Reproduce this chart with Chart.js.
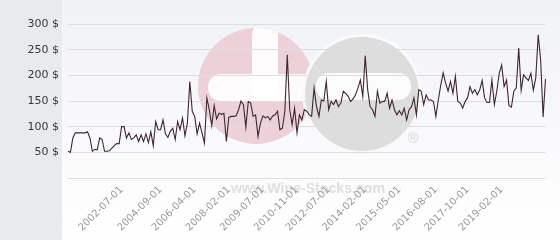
<!DOCTYPE html>
<html>
<head>
<meta charset="utf-8">
<script src="https://cdn.jsdelivr.net/npm/chart.js@4"></script>
<style>
  html, body { margin: 0; padding: 0; background: #ffffff; }
  #wrap { width: 560px; height: 240px; }
</style>
</head>
<body>
<div id="wrap"><canvas id="c" width="560" height="240"></canvas></div>
<script>
// Price series (USD), one value per sale date
const prices = [
  52,50,78,88,88,88,88,88,90,
  78,52,56,55,78,75,52,52,53,58,
  63,67,67,100,100,78,88,75,78,
  84,71,84,71,86,69,90,63,110,94,
  94,113,86,79,91,97,75,110,94,117,
  82,107,188,130,120,86,107,88,68,156,
  133,102,141,115,126,124,126,71,118,120,
  120,121,133,150,143,99,149,146,120,123,
  81,107,121,117,120,113,121,123,130,94,
  97,130,240,133,104,136,88,123,113,133,
  130,123,120,175,139,120,152,150,188,133,
  149,143,152,139,146,169,165,159,149,154,
  162,175,191,159,238,172,139,133,120,169,
  146,149,149,165,136,152,133,123,131,123,
  136,113,133,139,156,123,172,169,143,162,
  152,152,149,120,152,181,205,185,169,188,
  165,198,149,146,136,149,156,178,165,172,
  162,172,190,156,147,147,191,143,169,204,
  220,178,191,141,138,169,175,253,171,201,
  195,190,204,171,195,279,230,119,193
];
// Dates shown on the x axis and the sale index each one belongs to
const tickLabels = ['2002-07-01','2004-09-01','2006-04-01','2008-02-01','2009-07-01','2010-11-01',
                    '2012-07-01','2014-02-01','2015-05-01','2016-08-01','2017-10-01','2019-02-01'];
const tickIndex = [22,38,52,66,80,94,107,122,136,151,164,178];
// Y axis tick values
const yTicks = [0,50,100,150,200,250,300];

const categories = prices.map((_, i) => i);
const labelAt = {};
tickIndex.forEach((idx, k) => { labelAt[idx] = tickLabels[k]; });

function roundRect(c, x, y, w, h, r) {
  c.beginPath();
  c.moveTo(x + r, y);
  c.lineTo(x + w - r, y); c.arc(x + w - r, y + r, r, -Math.PI/2, 0);
  c.lineTo(x + w, y + h - r); c.arc(x + w - r, y + h - r, r, 0, Math.PI/2);
  c.lineTo(x + r, y + h); c.arc(x + r, y + h - r, r, Math.PI/2, Math.PI);
  c.lineTo(x, y + r); c.arc(x + r, y + r, r, Math.PI, 1.5*Math.PI);
  c.closePath(); c.fill();
}

const bgPlugin = {
  id: 'bg',
  beforeDraw(chart) {
    const c = chart.ctx;
    const W = chart.width, H = chart.height;
    c.save();
    const g = c.createLinearGradient(0, 0, 0, H);
    g.addColorStop(0, '#f1f2f6');
    g.addColorStop(1, '#ffffff');
    c.fillStyle = g;
    c.fillRect(0, 0, W, H);
    c.fillStyle = '#e7ebee';
    c.fillRect(0, 0, 62, H);
    // faint logo watermark: pink disc with a white cross
    c.save();
    c.beginPath(); c.arc(256, 86, 58, 0, 2*Math.PI); c.clip();
    c.fillStyle = '#ecd2d8';
    c.fillRect(190, 20, 140, 140);
    c.fillStyle = 'rgba(255,255,255,0.9)';
    roundRect(c, 252, 22, 26, 78, 13);
    roundRect(c, 208, 74, 110, 27, 13);
    c.restore();
    // grey disc with a white bar
    c.fillStyle = '#fafafb';
    c.beginPath(); c.arc(362, 94, 60, 0, 2*Math.PI); c.fill();
    c.save();
    c.beginPath(); c.arc(362, 94, 57, 0, 2*Math.PI); c.clip();
    c.fillStyle = '#dddddd';
    c.fillRect(300, 30, 130, 130);
    c.fillStyle = 'rgba(255,255,255,0.9)';
    roundRect(c, 316, 73, 95, 27, 13);
    c.restore();
    c.fillStyle = '#e0e0e0';
    c.font = 'bold 15px "Liberation Sans", Arial, sans-serif';
    c.textAlign = 'center';
    c.textBaseline = 'alphabetic';
    c.fillText('www.Wine-Stocks.com', 308, 193, 154);
    c.font = '15px "Liberation Sans", Arial, sans-serif';
    c.fillStyle = '#d8d8d8';
    c.fillText('®', 413, 143);
    c.restore();
  }
};

new Chart(document.getElementById('c'), {
  type: 'line',
  data: {
    labels: categories,
    datasets: [{
      data: prices,
      borderColor: '#3d2630',
      borderWidth: 1.1,
      pointRadius: 0,
      tension: 0,
      fill: false
    }]
  },
  options: {
    responsive: false,
    animation: false,
    events: [],
    layout: { padding: { top: 24, right: 5, left: 0, bottom: 0 } },
    plugins: { legend: { display: false }, tooltip: { enabled: false } },
    scales: {
      x: {
        grid: { display: false, drawTicks: false },
        border: { display: false },
        afterFit(s) { s.height = 62; },
        ticks: {
          autoSkip: false,
          minRotation: 45,
          maxRotation: 45,
          padding: 6,
          color: '#999999',
          font: { family: '"DejaVu Sans", Verdana, sans-serif', size: 10 },
          callback(v, i) { return labelAt[i] !== undefined ? labelAt[i] : ''; }
        }
      },
      y: {
        min: yTicks[0],
        max: yTicks[yTicks.length - 1],
        afterBuildTicks(s) { s.ticks = yTicks.map(v => ({ value: v })); },
        afterFit(s) { s.width = 68; },
        grid: { color: '#dedede', lineWidth: 1, drawTicks: false },
        border: { display: false },
        ticks: {
          padding: 9,
          color: '#383838',
          font: { family: '"DejaVu Sans", Verdana, sans-serif', size: 11 },
          callback(v) { return v === 0 ? '' : v + ' $'; }
        }
      }
    }
  },
  plugins: [bgPlugin]
});
</script>
</body>
</html>
